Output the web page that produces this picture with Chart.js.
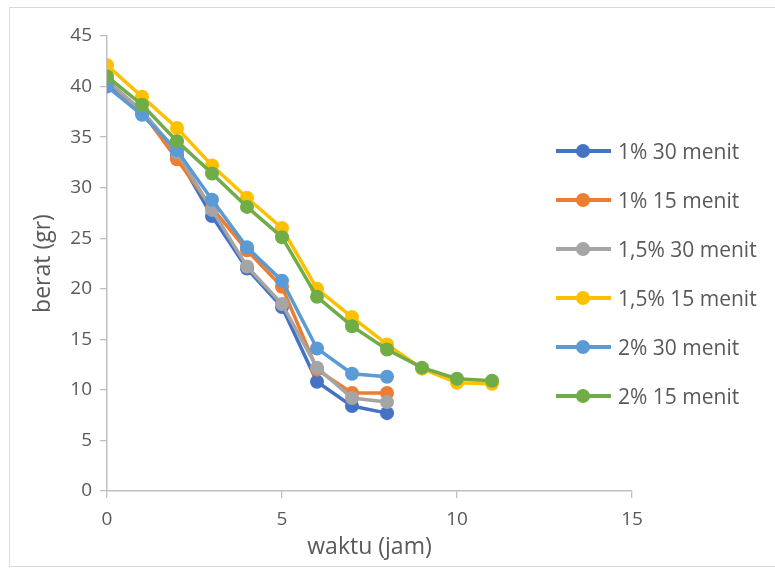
<!DOCTYPE html>
<html>
<head>
<meta charset="utf-8">
<script src="https://cdn.jsdelivr.net/npm/chart.js@4.4.1/dist/chart.umd.min.js"></script>
<style>
    body { margin: 0; background: #fff; overflow: hidden; font-family: "Open Sans", sans-serif; }
    #wrap { position: relative; width: 775px; height: 568px; overflow: hidden; }
    #frame { position: absolute; left: 9px; top: 7px; width: 820px; height: 558px; border: 1px solid #d9d9d9; }
    #chart { position: absolute; left: 0; top: 0; }
    #legend { position: absolute; left: 556px; top: 0; }
    .item { position: absolute; left: 0; width: 220px; height: 30px; }
    .item .ln { position: absolute; left: 0; top: 13px; width: 55px; height: 4px; }
    .item .dot { position: absolute; left: 20px; top: 8px; width: 14px; height: 14px; border-radius: 50%; }
    .item .tx { position: absolute; left: 62px; top: 0; line-height: 30px; font-size: 21px; color: #595959; white-space: nowrap; }
</style>
</head>
<body>
<div id="wrap">
    <div id="frame"></div>
    <canvas id="chart" width="775" height="568"></canvas>
    <div id="legend"></div>
</div>
<script>
let hours = [0, 1, 2, 3, 4, 5, 6, 7, 8, 9, 10, 11];
let series_names = ["1% 30 menit", "1% 15 menit", "1,5% 30 menit", "1,5% 15 menit", "2% 30 menit", "2% 15 menit"];
let series_colors = ["#4472C4", "#ED7D31", "#A5A5A5", "#FFC000", "#5B9BD5", "#70AD47"];

let p1_30 = [40.3, 37.4, 33.2, 27.2, 22.0, 18.2, 10.8, 8.4, 7.7];
let p1_15 = [40.6, 37.5, 32.8, 28.0, 23.8, 20.2, 12.0, 9.7, 9.7];
let p15_30 = [40.6, 37.6, 33.5, 27.8, 22.2, 18.5, 12.2, 9.2, 8.8];
let p15_15 = [42.1, 39.0, 35.9, 32.2, 29.0, 26.0, 20.0, 17.2, 14.5, 12.1, 10.7, 10.6];
let p2_30 = [40.0, 37.2, 33.7, 28.8, 24.1, 20.8, 14.1, 11.6, 11.3];
let p2_15 = [41.0, 38.2, 34.6, 31.4, 28.1, 25.1, 19.2, 16.3, 14.0, 12.2, 11.1, 10.9];

let all_series = [p1_30, p1_15, p15_30, p15_15, p2_30, p2_15];

let x_ticks = [0, 5, 10, 15];
let y_ticks = [0, 5, 10, 15, 20, 25, 30, 35, 40, 45];

let axis_color = "#bfbfbf";
let text_color = "#595959";

let datasets = [];
for (let i = 0; i < all_series.length; i++) {
    datasets.push({
        label: series_names[i],
        data: all_series[i].map((v, k) => ({x: hours[k], y: v})),
        borderColor: series_colors[i],
        backgroundColor: series_colors[i],
        borderWidth: 3.5,
        pointRadius: 7,
        pointHoverRadius: 7,
        pointBorderWidth: 0,
        tension: 0,
        order: -i, // later series drawn on top, like Excel
    });
}

let chart_obj = new Chart(document.getElementById("chart"), {
    type: "line",
    data: {datasets: datasets},
    options: {
        responsive: false,
        animation: false,
        layout: {
            padding: {left: 20, right: 143, top: 36, bottom: 0},
        },
        plugins: {
            legend: {display: false},
            tooltip: {enabled: false},
        },
        scales: {
            x: {
                type: "linear",
                min: 0,
                max: 15,
                afterBuildTicks: (scale) => { scale.ticks = x_ticks.map(v => ({value: v})); },
                afterFit: (scale) => { scale.height = 77; },
                grid: {
                    drawOnChartArea: false,
                    drawTicks: true,
                    tickLength: 7,
                    color: axis_color,
                    lineWidth: 1.3,
                },
                border: {color: axis_color, width: 1.5},
                ticks: {
                    color: text_color,
                    padding: 10,
                    font: {family: "Open Sans", size: 19},
                },
                title: {
                    display: true,
                    text: "waktu (jam)",
                    color: text_color,
                    font: {family: "Open Sans", size: 23},
                    padding: {top: 0, bottom: 7},
                },
            },
            y: {
                type: "linear",
                min: 0,
                max: 45,
                afterBuildTicks: (scale) => { scale.ticks = y_ticks.map(v => ({value: v})); },
                afterFit: (scale) => { scale.width = 87; },
                grid: {
                    drawOnChartArea: false,
                    drawTicks: true,
                    tickLength: 7,
                    color: axis_color,
                    lineWidth: 1.3,
                },
                border: {color: axis_color, width: 1.5},
                ticks: {
                    color: text_color,
                    padding: 8,
                    font: {family: "Open Sans", size: 19},
                },
                title: {
                    display: true,
                    text: "berat (gr)",
                    color: text_color,
                    font: {family: "Open Sans", size: 23},
                    padding: {top: 10, bottom: 0},
                },
            },
        },
    },
});

// legend as html, line with a dot like the excel one
let legend_rows = [151, 200, 249, 298, 347, 396];
let legend_ele = document.getElementById("legend");
for (let i = 0; i < series_names.length; i++) {
    let item = document.createElement("div");
    item.className = "item";
    item.style.top = (legend_rows[i] - 15) + "px";
    item.innerHTML =
        '<div class="ln" style="background:' + series_colors[i] + '"></div>' +
        '<div class="dot" style="background:' + series_colors[i] + '"></div>' +
        '<div class="tx">' + series_names[i] + '</div>';
    legend_ele.appendChild(item);
}
</script>
</body>
</html>
